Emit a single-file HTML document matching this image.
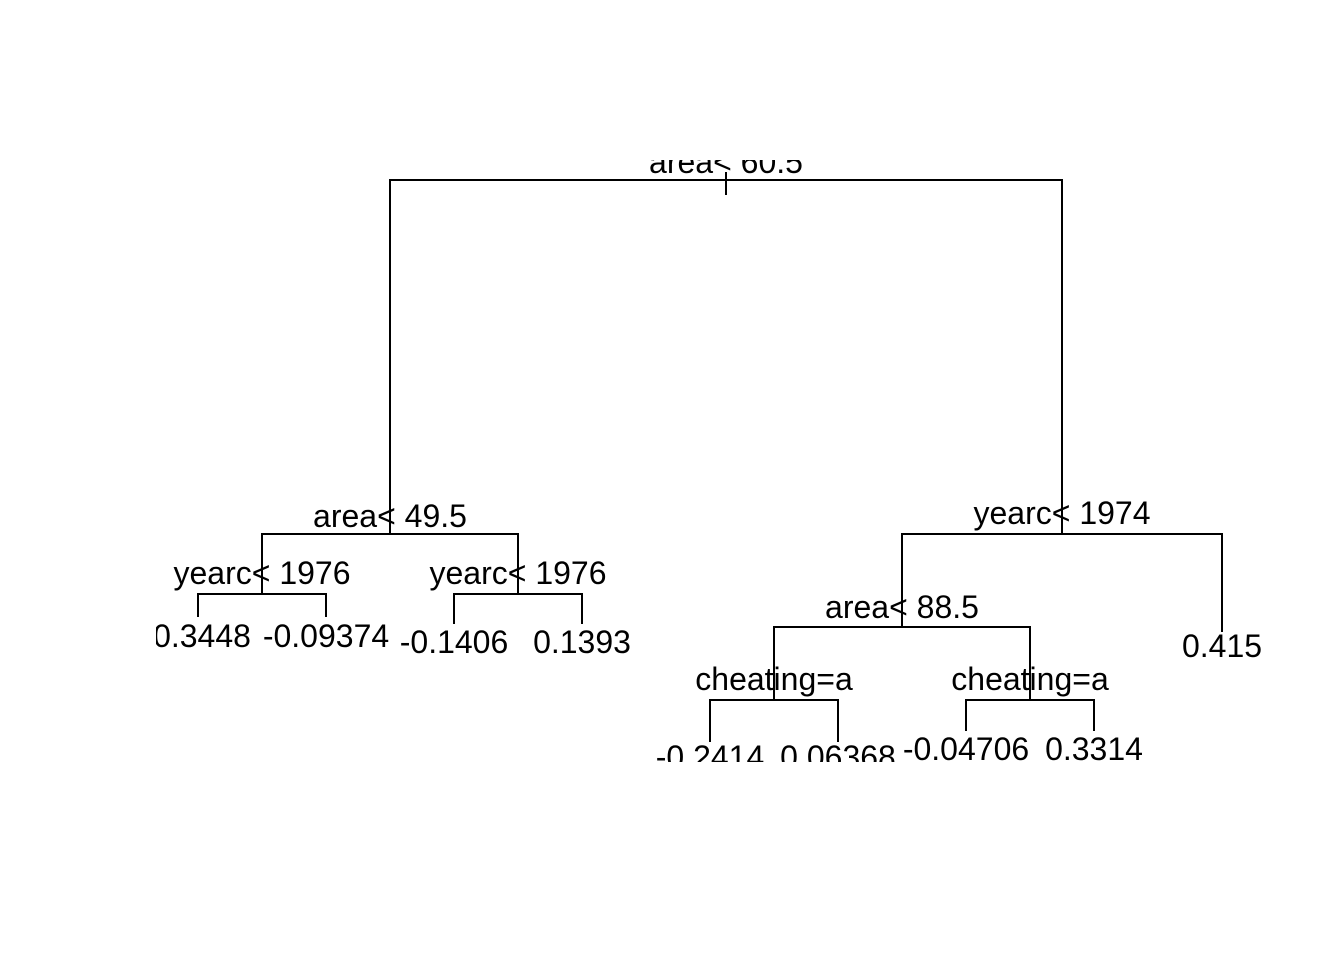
<!DOCTYPE html>
<html><head><meta charset="utf-8"><style>
html,body{margin:0;padding:0;background:#fff;}
svg{display:block;}
text{font-family:"Liberation Sans",Arial,sans-serif;font-size:32px;fill:#000;text-anchor:middle;}
</style></head><body>
<svg width="1344" height="960" viewBox="0 0 1344 960" xmlns="http://www.w3.org/2000/svg">
<defs><clipPath id="c"><rect x="156" y="160" width="1150" height="602"/></clipPath></defs>
<g clip-path="url(#c)">
<g stroke="#000" stroke-width="2" fill="none">
<path d="M726 195V172M390 534V180H1062V534"/>
<path d="M262 594V534H518V594"/>
<path d="M198 617V594H326V617"/>
<path d="M454 624V594H582V624"/>
<path d="M902 627V534H1222V632"/>
<path d="M774 700V627H1030V700"/>
<path d="M710 742V700H838V742"/>
<path d="M966 731V700H1094V731"/>
</g>
<text x="726" y="173">area&lt; 60.5</text>
<text x="390" y="527">area&lt; 49.5</text>
<text x="262" y="584">yearc&lt; 1976</text>
<text x="518" y="584">yearc&lt; 1976</text>
<text x="202" y="647">0.3448</text>
<text x="326" y="647">-0.09374</text>
<text x="454" y="653">-0.1406</text>
<text x="582" y="653">0.1393</text>
<text x="1062" y="524">yearc&lt; 1974</text>
<text x="902" y="618">area&lt; 88.5</text>
<text x="1222" y="657">0.415</text>
<text x="774" y="690">cheating=a</text>
<text x="1030" y="690">cheating=a</text>
<text x="710" y="768">-0.2414</text>
<text x="838" y="768">0.06368</text>
<text x="966" y="760">-0.04706</text>
<text x="1094" y="760">0.3314</text>
</g>
</svg>
</body></html>
